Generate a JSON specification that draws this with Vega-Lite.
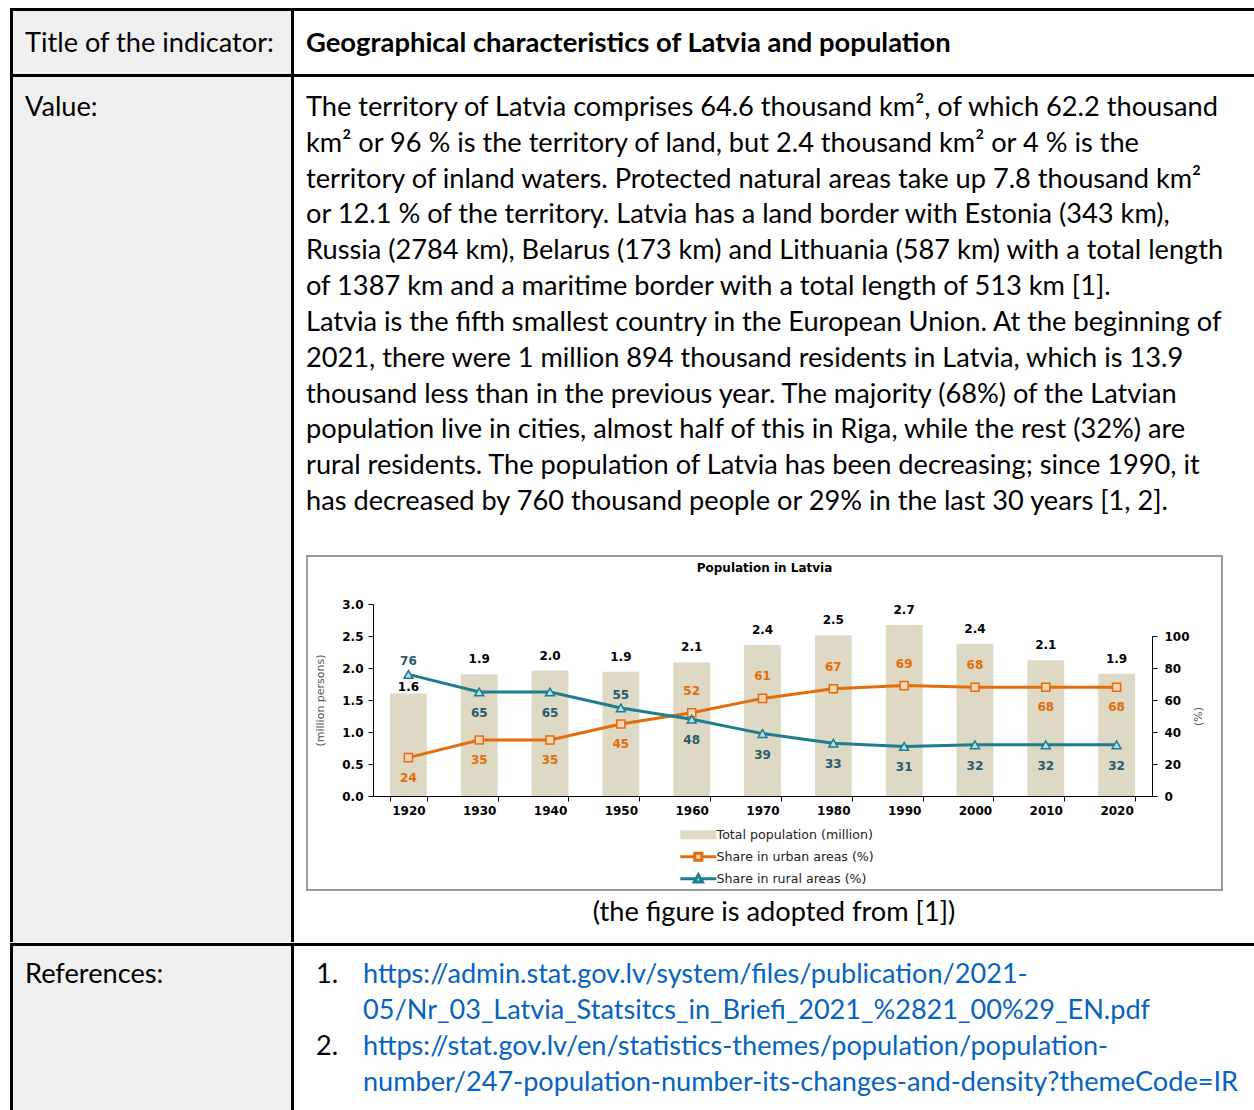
{
  "$schema": "https://vega.github.io/schema/vega-lite/v6.json",
  "background": "#ffffff",
  "padding": {"left": 10, "top": 8, "right": 0, "bottom": 0},
  "config": {"view": {"stroke": null}, "concat": {"spacing": 0}, "axis": {"grid": false}},
  "datasets": {
    "pop": [
      {"year": 1920, "total": 1.6}, {"year": 1930, "total": 1.9}, {"year": 1940, "total": 1.96},
      {"year": 1950, "total": 1.94}, {"year": 1960, "total": 2.09}, {"year": 1970, "total": 2.36},
      {"year": 1980, "total": 2.51}, {"year": 1990, "total": 2.67}, {"year": 2000, "total": 2.38},
      {"year": 2010, "total": 2.12}, {"year": 2020, "total": 1.91}
    ],
    "shares": [
      {"year": 1920, "series": "Share in urban areas (%)", "value": 24},
      {"year": 1930, "series": "Share in urban areas (%)", "value": 35},
      {"year": 1940, "series": "Share in urban areas (%)", "value": 35},
      {"year": 1950, "series": "Share in urban areas (%)", "value": 45},
      {"year": 1960, "series": "Share in urban areas (%)", "value": 52},
      {"year": 1970, "series": "Share in urban areas (%)", "value": 61},
      {"year": 1980, "series": "Share in urban areas (%)", "value": 67},
      {"year": 1990, "series": "Share in urban areas (%)", "value": 69},
      {"year": 2000, "series": "Share in urban areas (%)", "value": 68},
      {"year": 2010, "series": "Share in urban areas (%)", "value": 68},
      {"year": 2020, "series": "Share in urban areas (%)", "value": 68},
      {"year": 1920, "series": "Share in rural areas (%)", "value": 76},
      {"year": 1930, "series": "Share in rural areas (%)", "value": 65},
      {"year": 1940, "series": "Share in rural areas (%)", "value": 65},
      {"year": 1950, "series": "Share in rural areas (%)", "value": 55},
      {"year": 1960, "series": "Share in rural areas (%)", "value": 48},
      {"year": 1970, "series": "Share in rural areas (%)", "value": 39},
      {"year": 1980, "series": "Share in rural areas (%)", "value": 33},
      {"year": 1990, "series": "Share in rural areas (%)", "value": 31},
      {"year": 2000, "series": "Share in rural areas (%)", "value": 32},
      {"year": 2010, "series": "Share in rural areas (%)", "value": 32},
      {"year": 2020, "series": "Share in rural areas (%)", "value": 32}
    ]
  },
  "spacing": 0,
  "resolve": {"scale": {"stroke": "independent"}, "legend": {"stroke": "independent"}},
  "vconcat": [
    {"width": 1244, "height": 3, "data": {"values": []}, "mark": {"type": "text", "text": ""}, "view": {"fill": "#000000", "stroke": null}},
    {"spacing": 0, "hconcat": [
      {"width": 3, "height": 63, "data": {"values": []}, "mark": {"type": "text", "text": ""}, "view": {"fill": "#000000", "stroke": null}},
      {"width": 278, "height": 63, "view": {"fill": "#F0F0F0", "stroke": null},
        "data": {"values": [{"col": "a", "line": 1, "text": "Title of the indicator:"}]},
        "mark": {"type": "text", "align": "left", "baseline": "middle", "font": "Lato", "fontSize": 27.2, "color": "#000000"},
        "encoding": {
          "x": {"field": "col", "type": "nominal", "scale": {"type": "point", "range": [12, 12], "padding": 0}, "axis": null},
          "y": {"field": "line", "type": "ordinal", "scale": {"type": "point", "range": [33, 33], "padding": 0}, "axis": null},
          "text": {"field": "text"}}},
      {"width": 3, "height": 63, "data": {"values": []}, "mark": {"type": "text", "text": ""}, "view": {"fill": "#000000", "stroke": null}},
      {"width": 960, "height": 63, "view": {"fill": "#FFFFFF", "stroke": null},
        "data": {"values": [{"col": "a", "line": 1, "text": "Geographical characteristics of Latvia and population"}]},
        "mark": {"type": "text", "align": "left", "baseline": "middle", "font": "Lato", "fontSize": 27.4, "fontWeight": "bold", "color": "#000000"},
        "encoding": {
          "x": {"field": "col", "type": "nominal", "scale": {"type": "point", "range": [12, 12], "padding": 0}, "axis": null},
          "y": {"field": "line", "type": "ordinal", "scale": {"type": "point", "range": [33, 33], "padding": 0}, "axis": null},
          "text": {"field": "text"}}}
    ]},
    {"width": 1244, "height": 3, "data": {"values": []}, "mark": {"type": "text", "text": ""}, "view": {"fill": "#000000", "stroke": null}},
    {"spacing": 0,
      "resolve": {"scale": {"stroke": "independent"}, "legend": {"stroke": "independent"}},
      "hconcat": [
      {"width": 3, "height": 865, "data": {"values": []}, "mark": {"type": "text", "text": ""}, "view": {"fill": "#000000", "stroke": null}},
      {"width": 278, "height": 865, "view": {"fill": "#F0F0F0", "stroke": null},
        "data": {"values": [{"col": "a", "line": 1, "text": "Value:"}]},
        "mark": {"type": "text", "align": "left", "baseline": "middle", "font": "Lato", "fontSize": 27.2, "color": "#000000"},
        "encoding": {
          "x": {"field": "col", "type": "nominal", "scale": {"type": "point", "range": [12, 12], "padding": 0}, "axis": null},
          "y": {"field": "line", "type": "ordinal", "scale": {"type": "point", "range": [31, 31], "padding": 0}, "axis": null},
          "text": {"field": "text"}}},
      {"width": 3, "height": 865, "data": {"values": []}, "mark": {"type": "text", "text": ""}, "view": {"fill": "#000000", "stroke": null}},
      {"spacing": 0,
        "resolve": {"scale": {"stroke": "independent"}, "legend": {"stroke": "independent"}},
        "vconcat": [
        {"width": 960, "height": 478, "view": {"fill": "#FFFFFF", "stroke": null},
          "data": {"values": [
            {"col": "a", "line": 1, "text": "The territory of Latvia comprises 64.6 thousand km², of which 62.2 thousand"},
            {"col": "a", "line": 2, "text": "km² or 96 % is the territory of land, but 2.4 thousand km² or 4 % is the"},
            {"col": "a", "line": 3, "text": "territory of inland waters. Protected natural areas take up 7.8 thousand km²"},
            {"col": "a", "line": 4, "text": "or 12.1 % of the territory. Latvia has a land border with Estonia (343 km),"},
            {"col": "a", "line": 5, "text": "Russia (2784 km), Belarus (173 km) and Lithuania (587 km) with a total length"},
            {"col": "a", "line": 6, "text": "of 1387 km and a maritime border with a total length of 513 km [1]."},
            {"col": "a", "line": 7, "text": "Latvia is the fifth smallest country in the European Union. At the beginning of"},
            {"col": "a", "line": 8, "text": "2021, there were 1 million 894 thousand residents in Latvia, which is 13.9"},
            {"col": "a", "line": 9, "text": "thousand less than in the previous year. The majority (68%) of the Latvian"},
            {"col": "a", "line": 10, "text": "population live in cities, almost half of this in Riga, while the rest (32%) are"},
            {"col": "a", "line": 11, "text": "rural residents. The population of Latvia has been decreasing; since 1990, it"},
            {"col": "a", "line": 12, "text": "has decreased by 760 thousand people or 29% in the last 30 years [1, 2]."}
          ]},
          "mark": {"type": "text", "align": "left", "baseline": "middle", "font": "Lato", "fontSize": 27.2, "color": "#000000"},
          "encoding": {
            "x": {"field": "col", "type": "nominal", "scale": {"type": "point", "range": [12, 12], "padding": 0}, "axis": null},
            "y": {"field": "line", "type": "ordinal", "scale": {"type": "point", "range": [31, 425], "padding": 0}, "axis": null},
            "text": {"field": "text"}}},
        {"spacing": 0,
          "resolve": {"scale": {"stroke": "independent"}, "legend": {"stroke": "independent"}},
          "hconcat": [
          {"width": 12, "height": 336, "data": {"values": []}, "mark": {"type": "text", "text": ""}, "view": {"stroke": null}},
          {"width": 915, "height": 334,
            "view": {"stroke": "#9B9B9B", "strokeWidth": 2, "fill": "#FFFFFF"},
            "title": {"text": "Population in Latvia", "offset": -19, "anchor": "middle", "font": "DejaVu Sans", "fontSize": 12, "fontWeight": "bold", "color": "#000000"},
            "resolve": {"scale": {"y": "independent"}},
            "layer": [
              {"data": {"name": "pop"},
                "layer": [
                  {"mark": {"type": "bar", "color": "#DDD9C4"},
                    "encoding": {
                      "x": {"field": "year", "type": "ordinal",
                        "scale": {"range": [66, 845], "paddingInner": 0.48, "paddingOuter": 0.24},
                        "axis": {"title": null, "orient": "bottom", "offset": -94, "labelAngle": 0, "tickBand": "extent", "tickSize": 5, "labelPadding": 4, "domainColor": "#000000", "tickColor": "#000000", "labelFont": "DejaVu Sans", "labelFontWeight": "bold", "labelFontSize": 12, "labelColor": "#000000"}},
                      "y": {"field": "total", "type": "quantitative",
                        "scale": {"domain": [0, 3], "range": [240, 48], "nice": false},
                        "axis": {"title": "(million persons)", "orient": "left", "offset": -66, "values": [0, 0.5, 1, 1.5, 2, 2.5, 3], "format": ".1f", "tickSize": 5, "labelPadding": 5, "titlePadding": 16, "domainColor": "#000000", "tickColor": "#000000", "labelFont": "DejaVu Sans", "labelFontWeight": "bold", "labelFontSize": 12, "labelColor": "#000000", "titleFont": "DejaVu Sans", "titleFontWeight": "normal", "titleFontSize": 11, "titleColor": "#555555"}}
                    }},
                  {"transform": [{"filter": "datum.year !== 1920"}],
                    "mark": {"type": "text", "baseline": "middle", "dy": -15, "font": "DejaVu Sans", "fontSize": 12, "fontWeight": "bold", "color": "#000000"},
                    "encoding": {"x": {"field": "year", "type": "ordinal"}, "y": {"field": "total", "type": "quantitative"}, "text": {"field": "total", "type": "quantitative", "format": ".1f"}}},
                  {"transform": [{"filter": "datum.year === 1920"}],
                    "mark": {"type": "text", "baseline": "middle", "dy": -7, "font": "DejaVu Sans", "fontSize": 12, "fontWeight": "bold", "color": "#000000"},
                    "encoding": {"x": {"field": "year", "type": "ordinal"}, "y": {"field": "total", "type": "quantitative"}, "text": {"field": "total", "type": "quantitative", "format": ".1f"}}}
                ]},
              {"data": {"name": "shares"},
                "layer": [
                  {"mark": {"type": "line", "strokeWidth": 3},
                    "encoding": {
                      "x": {"field": "year", "type": "ordinal"},
                      "y": {"field": "value", "type": "quantitative",
                        "scale": {"domain": [0, 100], "range": [240, 80], "nice": false},
                        "axis": {"title": "(%)", "orient": "right", "offset": -70, "values": [0, 20, 40, 60, 80, 100], "format": "d", "tickSize": 5, "labelPadding": 7, "titlePadding": 14, "titleAngle": -90, "domainColor": "#000000", "tickColor": "#000000", "labelFont": "DejaVu Sans", "labelFontWeight": "bold", "labelFontSize": 12, "labelColor": "#000000", "titleFont": "DejaVu Sans", "titleFontWeight": "normal", "titleFontSize": 11, "titleColor": "#555555"}},
                      "stroke": {"field": "series", "type": "nominal",
                        "scale": {"domain": ["Total population (million)", "Share in urban areas (%)", "Share in rural areas (%)"], "range": ["#DDD9C4", "#E46C0A", "#1C7E8E"]},
                        "legend": {"title": null, "orient": "none", "legendX": 367, "legendY": 268, "direction": "vertical", "padding": 0, "symbolSize": 324, "rowPadding": 0, "clipHeight": 21.5, "labelOffset": 30, "labelFont": "DejaVu Sans", "labelFontSize": 12.6, "labelColor": "#222222", "symbolStrokeWidth": 3,
                          "encode": {"symbols": {"update": {
                            "shape": {"signal": "datum.value === 'Total population (million)' ? 'M0,-0.5H4V0.5H0Z' : datum.value === 'Share in urban areas (%)' ? 'M0,0H1.6M2.4,0H4M1.6,-0.4H2.4V0.4H1.6Z' : 'M0,0H1.75M2.25,0H4M1.55,0.35L2,-0.45L2.45,0.35Z'"},
                            "fill": {"signal": "datum.value === 'Total population (million)' ? '#DDD9C4' : datum.value === 'Share in urban areas (%)' ? '#FBD5B5' : '#B7DEE8'"},
                            "stroke": {"signal": "datum.value === 'Total population (million)' ? '#DDD9C4' : datum.value === 'Share in urban areas (%)' ? '#E46C0A' : '#1C7E8E'"},
                            "strokeWidth": {"signal": "datum.value === 'Total population (million)' ? 0 : 3"},
                            "opacity": {"value": 1},
                            "fillOpacity": {"value": 1}
                          }}}}}
                    }},
                  {"transform": [{"filter": "datum.series === 'Share in urban areas (%)'"}],
                    "mark": {"type": "point", "shape": "square", "filled": true, "fill": "#FBD5B5", "stroke": "#E46C0A", "strokeWidth": 1.5, "size": 65, "opacity": 1},
                    "encoding": {"x": {"field": "year", "type": "ordinal"}, "y": {"field": "value", "type": "quantitative"}}},
                  {"transform": [{"filter": "datum.series === 'Share in rural areas (%)'"}],
                    "mark": {"type": "point", "shape": "triangle-up", "filled": true, "fill": "#B7DEE8", "stroke": "#1C7E8E", "strokeWidth": 1.5, "size": 80, "opacity": 1},
                    "encoding": {"x": {"field": "year", "type": "ordinal"}, "y": {"field": "value", "type": "quantitative"}}},
                  {"transform": [{"filter": "datum.series === 'Share in urban areas (%)' && (datum.year <= 1950 || datum.year >= 2010)"}],
                    "mark": {"type": "text", "baseline": "middle", "dy": 20, "font": "DejaVu Sans", "fontSize": 12, "fontWeight": "bold", "color": "#E46C0A"},
                    "encoding": {"x": {"field": "year", "type": "ordinal"}, "y": {"field": "value", "type": "quantitative"}, "text": {"field": "value", "type": "quantitative"}}},
                  {"transform": [{"filter": "datum.series === 'Share in urban areas (%)' && datum.year > 1950 && datum.year < 2010"}],
                    "mark": {"type": "text", "baseline": "middle", "dy": -22, "font": "DejaVu Sans", "fontSize": 12, "fontWeight": "bold", "color": "#E46C0A"},
                    "encoding": {"x": {"field": "year", "type": "ordinal"}, "y": {"field": "value", "type": "quantitative"}, "text": {"field": "value", "type": "quantitative"}}},
                  {"transform": [{"filter": "datum.series === 'Share in rural areas (%)' && (datum.year === 1920 || datum.year === 1950)"}],
                    "mark": {"type": "text", "baseline": "middle", "dy": -13, "font": "DejaVu Sans", "fontSize": 12, "fontWeight": "bold", "color": "#2B5A6B"},
                    "encoding": {"x": {"field": "year", "type": "ordinal"}, "y": {"field": "value", "type": "quantitative"}, "text": {"field": "value", "type": "quantitative"}}},
                  {"transform": [{"filter": "datum.series === 'Share in rural areas (%)' && datum.year !== 1920 && datum.year !== 1950"}],
                    "mark": {"type": "text", "baseline": "middle", "dy": 21, "font": "DejaVu Sans", "fontSize": 12, "fontWeight": "bold", "color": "#2B5A6B"},
                    "encoding": {"x": {"field": "year", "type": "ordinal"}, "y": {"field": "value", "type": "quantitative"}, "text": {"field": "value", "type": "quantitative"}}}
                ]}
            ]},
          {"width": 31, "height": 336, "data": {"values": []}, "mark": {"type": "text", "text": ""}, "view": {"stroke": null}}
        ]},
        {"width": 960, "height": 51, "view": {"fill": "#FFFFFF", "stroke": null},
          "data": {"values": [{"col": "a", "line": 1, "text": "(the figure is adopted from [1])"}]},
          "mark": {"type": "text", "align": "center", "baseline": "middle", "font": "Lato", "fontSize": 27.2, "color": "#000000"},
          "encoding": {
            "x": {"field": "col", "type": "nominal", "scale": {"type": "point", "range": [480, 480], "padding": 0}, "axis": null},
            "y": {"field": "line", "type": "ordinal", "scale": {"type": "point", "range": [21, 21], "padding": 0}, "axis": null},
            "text": {"field": "text"}}}
      ]}
    ]},
    {"width": 1244, "height": 3, "data": {"values": []}, "mark": {"type": "text", "text": ""}, "view": {"fill": "#000000", "stroke": null}},
    {"spacing": 0, "hconcat": [
      {"width": 3, "height": 165, "data": {"values": []}, "mark": {"type": "text", "text": ""}, "view": {"fill": "#000000", "stroke": null}},
      {"width": 278, "height": 165, "view": {"fill": "#F0F0F0", "stroke": null},
        "data": {"values": [{"col": "a", "line": 1, "text": "References:"}]},
        "mark": {"type": "text", "align": "left", "baseline": "middle", "font": "Lato", "fontSize": 27.2, "color": "#000000"},
        "encoding": {
          "x": {"field": "col", "type": "nominal", "scale": {"type": "point", "range": [12, 12], "padding": 0}, "axis": null},
          "y": {"field": "line", "type": "ordinal", "scale": {"type": "point", "range": [29, 29], "padding": 0}, "axis": null},
          "text": {"field": "text"}}},
      {"width": 3, "height": 165, "data": {"values": []}, "mark": {"type": "text", "text": ""}, "view": {"fill": "#000000", "stroke": null}},
      {"width": 960, "height": 165, "view": {"fill": "#FFFFFF", "stroke": null},
        "data": {"values": [
          {"col": "num", "line": 1, "text": "1."},
          {"col": "url", "line": 1, "text": "https://admin.stat.gov.lv/system/files/publication/2021-"},
          {"col": "url", "line": 2, "text": "05/Nr_03_Latvia_Statsitcs_in_Briefi_2021_%2821_00%29_EN.pdf"},
          {"col": "num", "line": 3, "text": "2."},
          {"col": "url", "line": 3, "text": "https://stat.gov.lv/en/statistics-themes/population/population-"},
          {"col": "url", "line": 4, "text": "number/247-population-number-its-changes-and-density?themeCode=IR"}
        ]},
        "encoding": {
          "x": {"field": "col", "type": "nominal", "scale": {"type": "point", "domain": ["num", "url"], "range": [22, 69], "padding": 0}, "axis": null},
          "y": {"field": "line", "type": "ordinal", "scale": {"type": "point", "range": [29, 137], "padding": 0}, "axis": null},
          "text": {"field": "text"}},
        "layer": [
          {"transform": [{"filter": "datum.col === 'num'"}],
            "mark": {"type": "text", "align": "left", "baseline": "middle", "font": "Lato", "fontSize": 27.1, "color": "#000000"}},
          {"transform": [{"filter": "datum.col === 'url'"}],
            "mark": {"type": "text", "align": "left", "baseline": "middle", "font": "Lato", "fontSize": 27.1, "color": "#0563C1"}}
        ]}
    ]}
  ]
}
